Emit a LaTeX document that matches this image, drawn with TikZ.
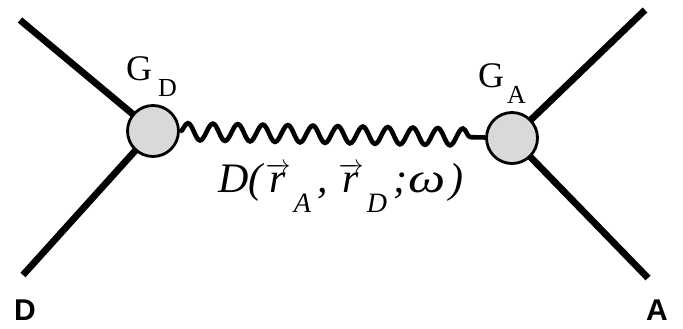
\documentclass[tikz,border=0pt]{standalone}
\usepackage{amsmath}
\usepackage{graphicx}
\usepackage{fontspec}
\setmainfont{Liberation Serif}
\setsansfont{Liberation Sans}
\usetikzlibrary{decorations.pathmorphing}
\pgfdeclarelayer{background}
\pgfsetlayers{background,main}
\newcommand{\myvr}{$\overrightarrow{\text{r}}$}
\newcommand{\mysub}[1]{\raisebox{-20pt}{\fontsize{28}{30}\selectfont #1}}
\newcommand{\mygsub}[1]{\raisebox{-16pt}{\fontsize{26}{28}\selectfont #1}}
\begin{document}
\begin{tikzpicture}[x=1pt,y=-1pt,
  leg/.style={line width=6.8pt},
  vertex/.style={circle, draw, line width=2.8pt, fill=black!15, minimum size=51pt, inner sep=0pt},
  wave/.style={line width=4.6pt, decorate, decoration={snake, segment length=25pt, amplitude=8.5pt, post length=14pt}},
  glabel/.style={anchor=base west, inner sep=0pt, font=\fontsize{36}{38}\selectfont},
  endlabel/.style={anchor=base, inner sep=0pt, font=\fontsize{30}{34}\selectfont\sffamily\bfseries}]
\useasboundingbox (0,0) rectangle (683,329);
\node[vertex] (gd) at (153,131) {};
\node[vertex] (ga) at (512,138) {};
\coordinate (d1) at (20,20);
\coordinate (d2) at (23,275);
\coordinate (a1) at (645,10);
\coordinate (a2) at (648,278);
\begin{pgfonlayer}{background}
\draw[leg] (d1) -- (gd.center);
\draw[leg] (d2) -- (gd.center);
\draw[leg] (a1) -- (ga.center);
\draw[leg] (a2) -- (ga.center);
\end{pgfonlayer}
\draw[wave] (gd) -- (ga);
\node[glabel] (gdl) at (126,81) {G\hspace{6pt}\mygsub{D}};
\node[glabel] (gal) at (478,88) {G\hspace{3pt}\mygsub{A}};
\node[anchor=base west, inner sep=0pt, font=\fontsize{42}{46}\selectfont\itshape] (wl) at (218,192)
  {D(\hspace{3pt}\myvr\hspace{3.5pt}\mysub{A}\hspace{6pt},\hspace{11pt}\myvr\hspace{3.5pt}\mysub{D}\hspace{6pt};\hspace{1pt}\scalebox{1.25}[1]{ω}\hspace{4pt})};
\node[endlabel] (dl) at (25,320) {D};
\node[endlabel] (al) at (657,320) {A};
\end{tikzpicture}
\end{document}
